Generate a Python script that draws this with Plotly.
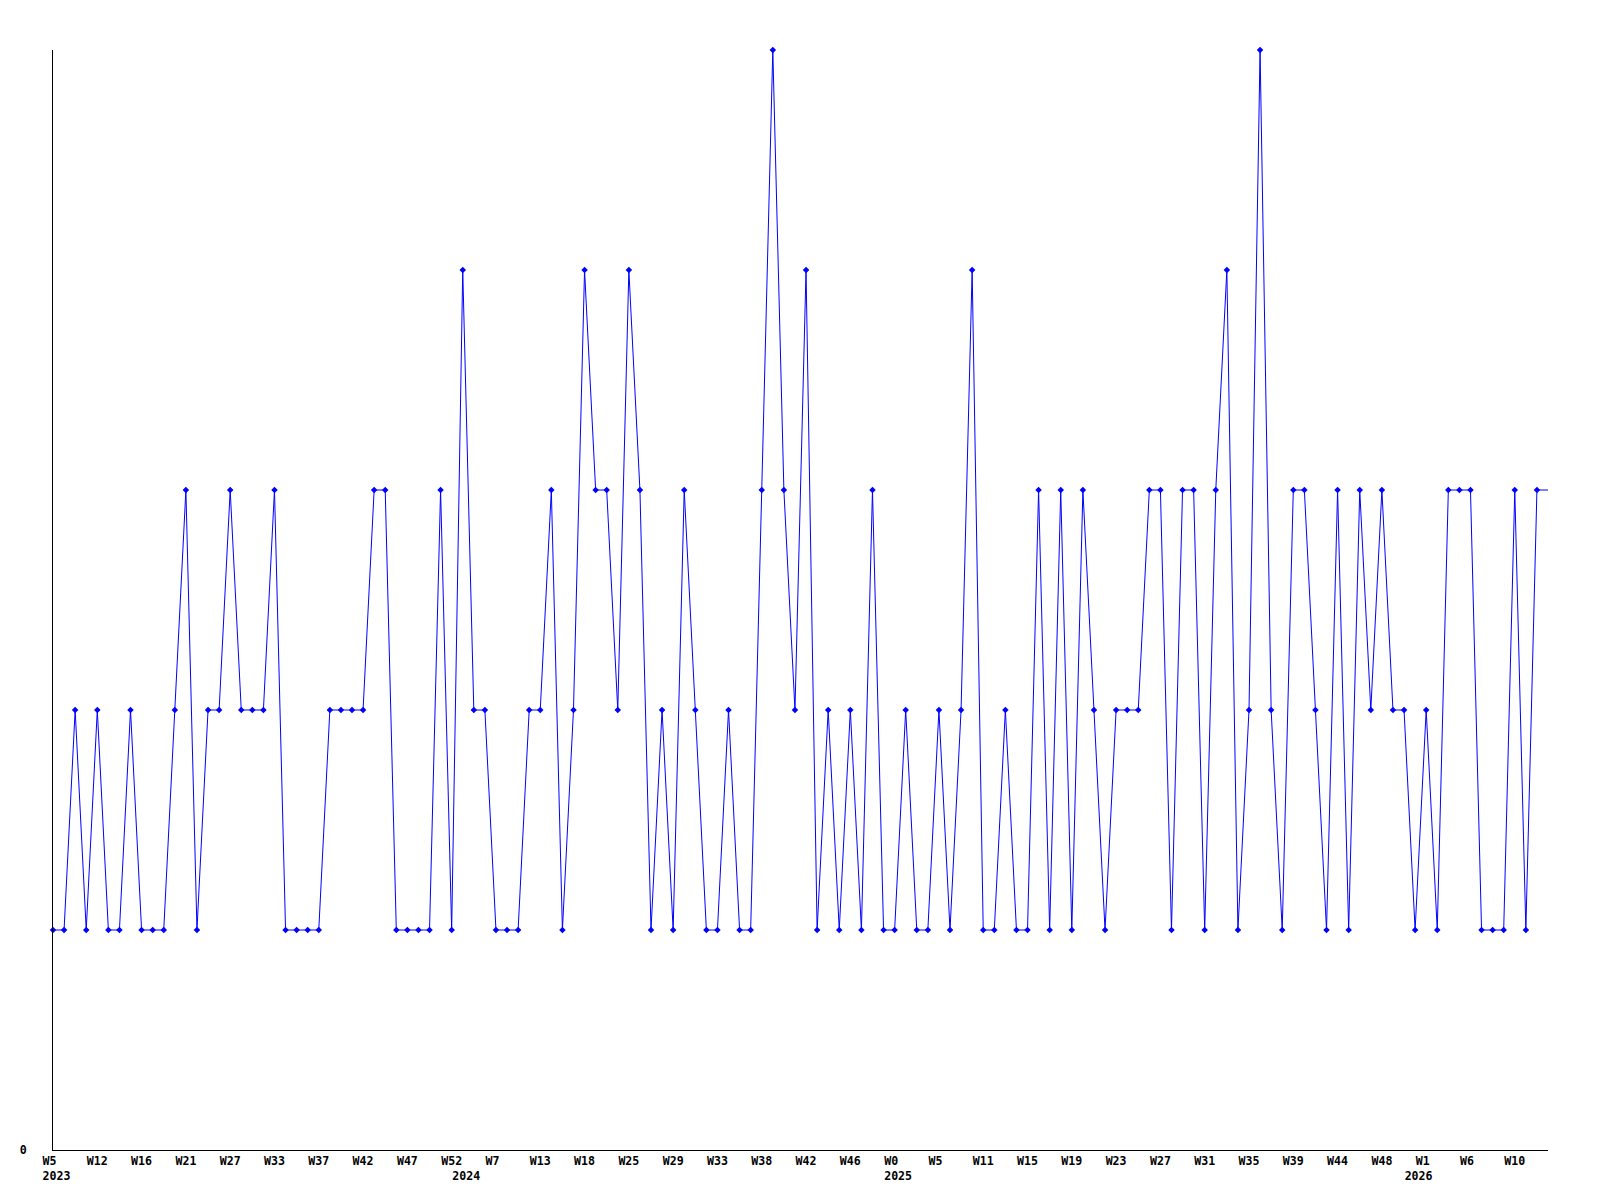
import plotly.graph_objects as go

# ---- data ----
values = [
    1, 1, 2, 1, 2, 1, 1, 2, 1, 1, 1, 2, 3, 1, 2,
    2, 3, 2, 2, 2, 3, 1, 1, 1, 1, 2, 2, 2, 2, 3, 3, 1, 1,
    1, 1, 3, 1, 4, 2, 2, 1, 1, 1, 2, 2, 3, 1, 2, 4, 3, 3,
    2, 4, 3, 1, 2, 1, 3, 2, 1, 1, 2, 1, 1, 3, 5, 3, 2, 4,
    1, 2, 1, 2, 1, 3, 1, 1, 2, 1, 1, 2, 1, 2, 4, 1, 1, 2,
    1, 1, 3, 1, 3, 1, 3, 2, 1, 2, 2, 2, 3, 3, 1, 3, 3, 1,
    3, 4, 1, 2, 5, 2, 1, 3, 3, 2, 1, 3, 1, 3, 2, 3, 2, 2,
    1, 2, 1, 3, 3, 3, 1, 1, 1, 3, 1, 3, 3,
]
week_labels = [
    "W5", "W12", "W16", "W21", "W27", "W33", "W37", "W42", "W47", "W52",
    "W7", "W13", "W18", "W25", "W29", "W33", "W38", "W42", "W46", "W0",
    "W5", "W11", "W15", "W19", "W23", "W27", "W31", "W35", "W39", "W44",
    "W48", "W1", "W6", "W10",
]
week_label_step = 4
year_labels = ["2023", "2024", "2025", "2026"]
year_positions = [0, 37, 76, 123]

x = list(range(len(values)))
NB = "\u00a0"

# build tick labels (left-aligned look in a monospace font)
ticks = {}
for i, w in enumerate(week_labels):
    pos = i * week_label_step
    ticks[pos] = [w + NB * (3 - len(w)), NB]
for pos, yr in zip(year_positions, year_labels):
    ticks.setdefault(pos, [NB, NB])
    ticks[pos][1] = NB + yr
tickvals = sorted(ticks)
ticktext = []
for p in tickvals:
    top, bottom = ticks[p]
    ticktext.append(top + "<br>" + bottom if bottom != NB else top)

BLUE = "#0000ff"
fig = go.Figure()
fig.add_trace(go.Scatter(
    x=x, y=values, mode="lines",
    line=dict(color=BLUE, width=1), hoverinfo="skip", showlegend=False,
))
fig.add_trace(go.Scatter(
    x=x[:-1], y=values[:-1], mode="markers",
    marker=dict(symbol="diamond", size=5, color=BLUE, line=dict(width=0)),
    cliponaxis=False, showlegend=False,
))

font = dict(family="DejaVu Sans Mono", size=11.6, color="black", weight="bold")
fig.update_layout(
    width=1600, height=1200,
    margin=dict(l=40, r=60, t=42, b=58, pad=0),
    plot_bgcolor="white", paper_bgcolor="white",
    font=font,
    showlegend=False,
)
fig.update_xaxes(
    range=[0, len(values) - 1], showgrid=False, zeroline=False,
    showline=True, linecolor="black", linewidth=1,
    ticks="", tickmode="array", tickvals=tickvals, ticktext=ticktext,
    tickangle=0, tickfont=font, ticklabelstandoff=0,
)
fig.update_yaxes(
    range=[0, 5], showgrid=False, zeroline=False,
    showline=True, linecolor="black", linewidth=1,
    ticks="", tickmode="array", tickvals=[0], ticktext=["0"],
    tickfont=font, ticklabelstandoff=23,
)
fig.write_html("out.html")
